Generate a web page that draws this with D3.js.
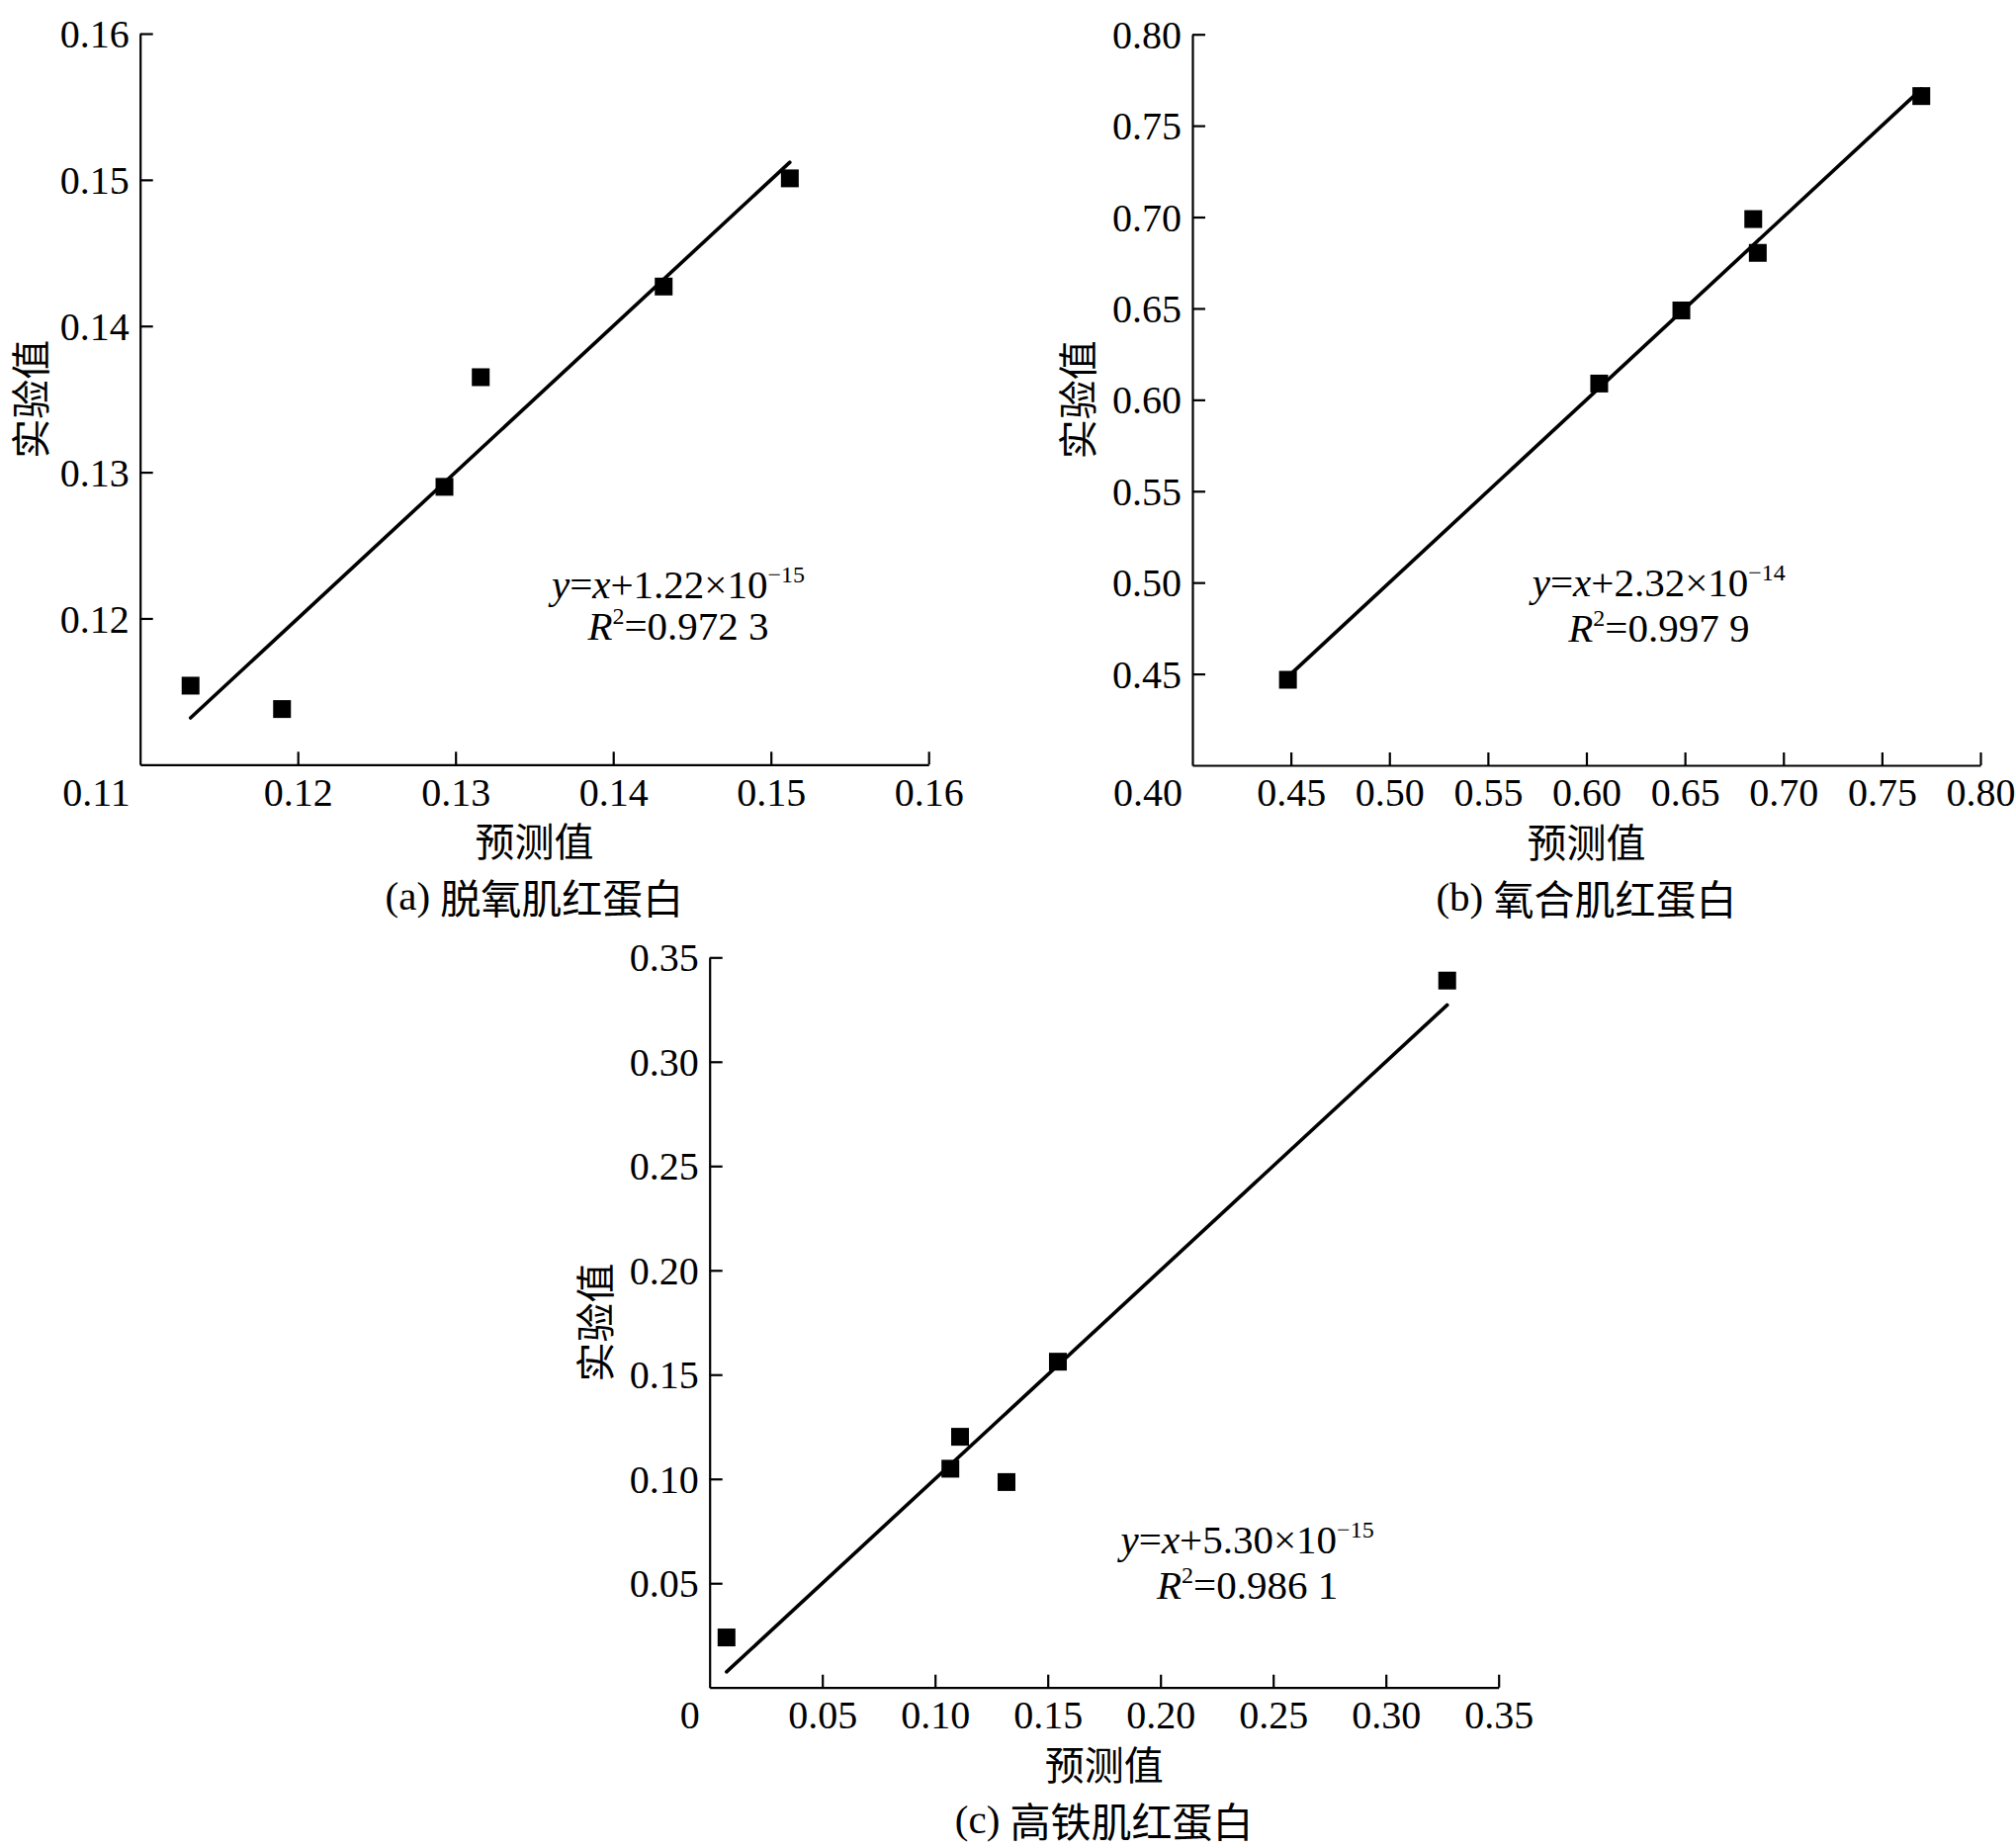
<!DOCTYPE html>
<html>
<head>
<meta charset="utf-8">
<script src="https://cdn.jsdelivr.net/npm/d3@7"></script>
<style>
  html, body { margin: 0; padding: 0; background: #fff; }
  svg { display: block; }
  svg text, svg tspan { font-family: "Liberation Serif", "Times New Roman", Times, serif; fill: #000; }
  svg text.cjk, svg tspan.cjk { font-family: "Noto Sans CJK SC", "Noto Sans CJK JP", sans-serif; }
</style>
</head>
<body>
<svg id="chart" width="2039" height="1869"></svg>
<script>
// ---------------- DATA ----------------
const panelIds = ["a", "b", "c"];
const captionTags = ["(a) ", "(b) ", "(c) "];
const captionNames = ["脱氧肌红蛋白", "氧合肌红蛋白", "高铁肌红蛋白"];
const xTitle = "预测值";
const yTitle = "实验值";

// predicted (x) and experimental (y) values
const predA = [0.1132, 0.1190, 0.1293, 0.1316, 0.1432, 0.1512];
const expA  = [0.1154, 0.1138, 0.1290, 0.1365, 0.1427, 0.1501];
const predB = [0.4485, 0.6065, 0.6482, 0.6847, 0.6870, 0.7700];
const expB  = [0.4468, 0.6089, 0.6489, 0.6989, 0.6804, 0.7662];
const predC = [0.0075, 0.1068, 0.1111, 0.1317, 0.1545, 0.3272];
const expC  = [0.0240, 0.1049, 0.1202, 0.0985, 0.1562, 0.3389];

// axis ticks (first value is the shared origin)
const ticksA = [0.11, 0.12, 0.13, 0.14, 0.15, 0.16];
const tickLabelsA = ["0.11", "0.12", "0.13", "0.14", "0.15", "0.16"];
const ticksB = [0.40, 0.45, 0.50, 0.55, 0.60, 0.65, 0.70, 0.75, 0.80];
const tickLabelsB = ["0.40", "0.45", "0.50", "0.55", "0.60", "0.65", "0.70", "0.75", "0.80"];
const ticksC = [0, 0.05, 0.10, 0.15, 0.20, 0.25, 0.30, 0.35];
const tickLabelsC = ["0", "0.05", "0.10", "0.15", "0.20", "0.25", "0.30", "0.35"];

// fitted line y = x + intercept
const fitIntercepts = [1.22e-15, 2.32e-14, 5.30e-15];
const eqMantissa = ["1.22", "2.32", "5.30"];
const eqExponent = ["−15", "−14", "−15"];
const r2Text = ["0.972 3", "0.997 9", "0.986 1"];

// ---------------- LAYOUT ----------------
const layout = [
  { left: 141.7, right: 939.2, top: 34.0, bottom: 773.3, eqX: 0.6825, eqY1: 0.772, eqY2: 0.829 },
  { left: 1206.0, right: 2003.0, top: 34.7, bottom: 774.0, eqX: 0.592, eqY1: 0.769, eqY2: 0.831 },
  { left: 717.7, right: 1515.7, top: 968.3, bottom: 1706.7, eqX: 0.6816, eqY1: 0.8166, eqY2: 0.879 }
];

const preds = [predA, predB, predC];
const exps = [expA, expB, expC];
const ticks = [ticksA, ticksB, ticksC];
const tickLabels = [tickLabelsA, tickLabelsB, tickLabelsC];

const tickFont = 40;
const tickLen = 13;

const svg = d3.select("#chart");

panelIds.forEach((id, i) => {
  const L = layout[i];
  const tv = ticks[i];
  const tl = tickLabels[i];
  const dom = [tv[0], tv[tv.length - 1]];
  const x = d3.scaleLinear().domain(dom).range([L.left, L.right]);
  const y = d3.scaleLinear().domain(dom).range([L.bottom, L.top]);
  const labelOf = v => tl[tv.indexOf(v)];

  const g = svg.append("g").attr("class", "panel-" + id);

  // x axis
  const xAxis = d3.axisBottom(x)
    .tickValues(tv.slice(1))
    .tickFormat(labelOf)
    .tickSizeInner(-tickLen)
    .tickSizeOuter(0)
    .tickPadding(13);
  const gx = g.append("g")
    .attr("transform", `translate(0,${L.bottom})`)
    .call(xAxis);
  gx.attr("font-size", tickFont);
  gx.select(".domain").attr("stroke", "#000").attr("stroke-width", 2.2);
  gx.selectAll(".tick line").attr("stroke", "#000").attr("stroke-width", 2.2);

  // y axis
  const yAxis = d3.axisLeft(y)
    .tickValues(tv.slice(1))
    .tickFormat(labelOf)
    .tickSizeInner(-tickLen)
    .tickSizeOuter(0)
    .tickPadding(11);
  const gy = g.append("g")
    .attr("transform", `translate(${L.left},0)`)
    .call(yAxis);
  gy.attr("font-size", tickFont);
  gy.select(".domain").attr("stroke", "#000").attr("stroke-width", 2.2);
  gy.selectAll(".tick line").attr("stroke", "#000").attr("stroke-width", 2.2);
  gy.selectAll(".tick text").attr("dy", "0.34em");

  // shared origin label at bottom-left corner
  g.append("text")
    .attr("x", x(tv[0]) - 10)
    .attr("y", y(tv[0]) + 13)
    .attr("dy", "0.71em")
    .attr("text-anchor", "end")
    .attr("font-size", tickFont)
    .text(tl[0]);

  // fitted line y = x + b over the range of predicted values
  const px = preds[i], py = exps[i];
  const xr = d3.extent(px);
  const b = fitIntercepts[i];
  const lineData = xr.map(v => [v, v + b]);
  g.append("path")
    .datum(lineData)
    .attr("d", d3.line().x(d => x(d[0])).y(d => y(d[1])))
    .attr("fill", "none")
    .attr("stroke", "#000")
    .attr("stroke-width", 3.6)
    .attr("stroke-linecap", "round");

  // points (filled squares)
  const ms = 18;
  g.selectAll("rect.pt")
    .data(px.map((v, k) => [v, py[k]]))
    .join("rect")
    .attr("class", "pt")
    .attr("x", d => x(d[0]) - ms / 2)
    .attr("y", d => y(d[1]) - ms / 2)
    .attr("width", ms)
    .attr("height", ms)
    .attr("fill", "#000");

  // axis titles
  g.append("text")
    .attr("class", "cjk")
    .attr("x", (L.left + L.right) / 2)
    .attr("y", L.bottom + 76)
    .attr("dominant-baseline", "central")
    .attr("text-anchor", "middle")
    .attr("font-size", 40)
    .text(xTitle);

  const ytx = Math.max(L.left - 118, 29);
  g.append("text")
    .attr("class", "cjk")
    .attr("transform", `translate(${ytx},${(L.top + L.bottom) / 2}) rotate(-90)`)
    .attr("dominant-baseline", "central")
    .attr("text-anchor", "middle")
    .attr("font-size", 40)
    .text(yTitle);

  // caption
  const cap = g.append("text")
    .attr("x", (L.left + L.right) / 2)
    .attr("y", L.bottom + 133)
    .attr("dominant-baseline", "central")
    .attr("text-anchor", "middle")
    .attr("font-size", 41);
  cap.append("tspan").text(captionTags[i]);
  cap.append("tspan").attr("class", "cjk").text(captionNames[i]);

  // equation
  const ex = L.left + L.eqX * (L.right - L.left);
  const ey1 = L.top + L.eqY1 * (L.bottom - L.top);
  const ey2 = L.top + L.eqY2 * (L.bottom - L.top);
  const eq1 = g.append("text")
    .attr("x", ex).attr("y", ey1)
    .attr("text-anchor", "middle")
    .attr("font-size", 41);
  eq1.append("tspan").attr("font-style", "italic").text("y");
  eq1.append("tspan").text("=");
  eq1.append("tspan").attr("font-style", "italic").text("x");
  eq1.append("tspan").text("+" + eqMantissa[i] + "×10");
  eq1.append("tspan").attr("font-size", 24).attr("dy", -16).text(eqExponent[i]);

  const eq2 = g.append("text")
    .attr("x", ex).attr("y", ey2)
    .attr("text-anchor", "middle")
    .attr("font-size", 41);
  eq2.append("tspan").attr("font-style", "italic").text("R");
  eq2.append("tspan").attr("font-size", 24).attr("dy", -16).text("2");
  eq2.append("tspan").attr("dy", 16).text("=" + r2Text[i]);
});
</script>
</body>
</html>
